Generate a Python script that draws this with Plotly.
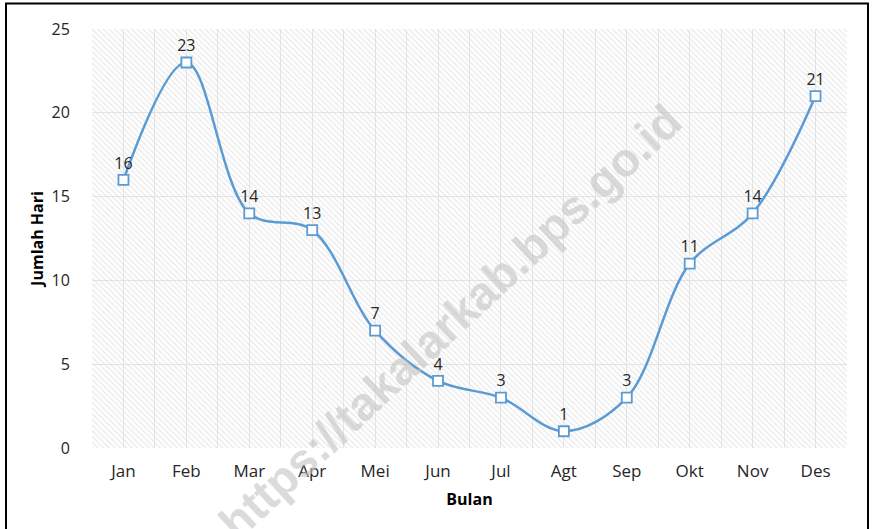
import plotly.graph_objects as go

months = ["Jan", "Feb", "Mar", "Apr", "Mei", "Jun", "Jul", "Agt", "Sep", "Okt", "Nov", "Des"]
days = [16, 23, 14, 13, 7, 4, 3, 1, 3, 11, 14, 21]
y_ticks = [0, 5, 10, 15, 20, 25]

x_idx = list(range(len(months)))
x_range = [-0.5, len(months) - 0.5]
y_range = [0, 25]

blue = "#5B9BD5"
txt = "#404040"
font_fam = "Open Sans, Noto Sans, sans-serif"

fig = go.Figure()

# hatched plot-area background
fig.add_trace(go.Scatter(
    x=[x_range[0], x_range[1], x_range[1], x_range[0], x_range[0]],
    y=[y_range[0], y_range[0], y_range[1], y_range[1], y_range[0]],
    mode="none", fill="toself", fillcolor="rgba(0,0,0,0)",
    fillpattern=dict(shape="\\", fgcolor="#d2d2d2", bgcolor="rgba(0,0,0,0)",
                     size=4, solidity=0.3),
    hoverinfo="skip", showlegend=False,
))

fig.add_trace(go.Scatter(
    x=x_idx, y=days, mode="lines+markers+text",
    line=dict(color=blue, width=2.5, shape="spline", smoothing=1.0),
    marker=dict(symbol="square", size=10, color="white",
                line=dict(color=blue, width=1.8)),
    text=[str(v) for v in days], textposition="top center",
    textfont=dict(size=16, color="#262626", family=font_fam),
    showlegend=False,
))

fig.update_layout(
    width=875, height=529,
    margin=dict(l=92, r=28, t=29, b=81),
    paper_bgcolor="white", plot_bgcolor="white",
    font=dict(family=font_fam, color=txt, size=17),
    xaxis=dict(
        range=x_range, tickmode="array", tickvals=x_idx, ticktext=months,
        showgrid=True, gridcolor="#e6e6e6", gridwidth=1,
        minor=dict(dtick=0.5, tick0=0, showgrid=True, gridcolor="#e6e6e6"),
        zeroline=False, showline=False,
        ticks="outside", ticklen=8, tickcolor="rgba(0,0,0,0)",
        tickfont=dict(size=17, color="#262626"),
        title=dict(text="<b>Bulan</b>", font=dict(size=16, color="#000"), standoff=12),
    ),
    yaxis=dict(
        range=y_range, tickmode="array", tickvals=y_ticks,
        showgrid=True, gridcolor="#e6e6e6", gridwidth=1,
        zeroline=False, showline=False,
        ticks="outside", ticklen=18, tickcolor="rgba(0,0,0,0)",
        tickfont=dict(size=16, color="#262626"),
        title=dict(text="<b>Jumlah Hari</b>", font=dict(size=16, color="#000"), standoff=3),
    ),
    shapes=[dict(type="rect", xref="paper", yref="paper",
                 x0=-0.1139, x1=1.0278, y0=-0.3, y1=1.0609,
                 line=dict(color="black", width=2), fillcolor="rgba(0,0,0,0)", layer="above")],
    annotations=[dict(
        text="<b>https://takalarkab.bps.go.id</b>", xref="paper", yref="paper",
        x=0.474, y=0.303, xanchor="center", yanchor="middle",
        showarrow=False, textangle=-43,
        font=dict(size=47, color="rgba(195,195,195,0.6)", family="Liberation Sans, Arial, sans-serif"),
    )],
)

fig.write_html("out.html", config={"displayModeBar": False},
               post_script="document.body.style.margin='0';")
